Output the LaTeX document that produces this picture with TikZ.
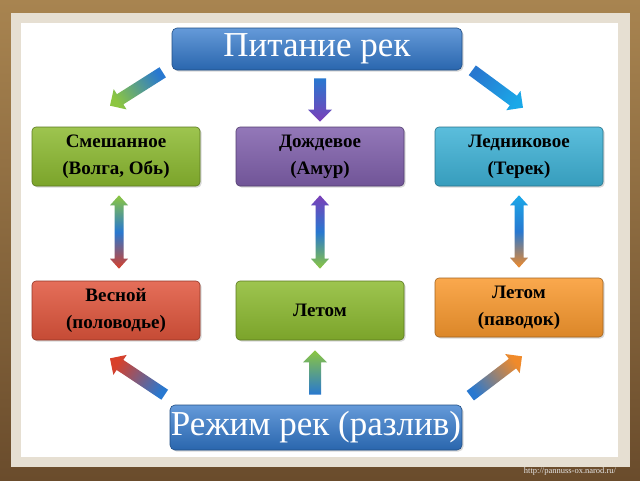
\documentclass[tikz,border=0pt]{standalone}
\usepackage{fontspec}
\setmainfont{Liberation Serif}
\usetikzlibrary{calc,shadows}
\definecolor{bgA}{HTML}{A88450}
\definecolor{bgB}{HTML}{6A4C2C}
\definecolor{frameC}{HTML}{E6DFD2}
\definecolor{hblue}{HTML}{3178CC}
\definecolor{cgreen}{HTML}{8CBA30}
\definecolor{cpurple}{HTML}{8060AC}
\definecolor{ccyan}{HTML}{3EB2D6}
\definecolor{cred}{HTML}{E0553C}
\definecolor{corange}{HTML}{F9992E}
\definecolor{ablue}{HTML}{2878D0}
\definecolor{agreen}{HTML}{8CC640}
\definecolor{apurple}{HTML}{7B3FB8}
\definecolor{acyan}{HTML}{1AA8E8}
\definecolor{ared}{HTML}{D8402A}
\definecolor{aorange}{HTML}{F08A2A}
\newcommand{\blk}[3]{%
  \coordinate (bA) at (#2); \coordinate (bB) at (#3);
  \coordinate (bH) at ($(bB)!12pt!(bA)$);
  \path[#1] ($(bA)!6pt!90:(bB)$) -- ($(bH)!6pt!90:(bB)$) -- ($(bH)!12pt!90:(bB)$) -- (bB)
    -- ($(bH)!12pt!-90:(bB)$) -- ($(bH)!6pt!-90:(bB)$) -- ($(bA)!6pt!-90:(bB)$) -- cycle;}
\newcommand{\dbl}[3]{%
  \coordinate (bA) at (#2); \coordinate (bB) at (#3);
  \coordinate (bH) at ($(bB)!10pt!(bA)$); \coordinate (bG) at ($(bA)!10pt!(bB)$);
  \path[#1] (bA) -- ($(bG)!9pt!-90:(bB)$) -- ($(bG)!4.5pt!-90:(bB)$) -- ($(bH)!4.5pt!-90:(bB)$)
    -- ($(bH)!9pt!-90:(bB)$) -- (bB) -- ($(bH)!9pt!90:(bB)$) -- ($(bH)!4.5pt!90:(bB)$)
    -- ($(bG)!4.5pt!90:(bB)$) -- ($(bG)!9pt!90:(bB)$) -- cycle;}
\tikzset{
  bx/.style={rounded corners=4pt, minimum width=168pt, minimum height=59pt, inner sep=0pt,
    align=center, font=\bfseries\fontsize{19}{27}\selectfont, text=black,
    draw=#1!65!black, line width=0.6pt, top color=#1!85!white, bottom color=#1!88!black,
    drop shadow={opacity=0.3, shadow xshift=1.5pt, shadow yshift=-1.5pt}},
  hd/.style={rounded corners=5pt, inner sep=0pt, font=\fontsize{35}{35}\selectfont,
    text=white, draw=hblue!65!black, line width=0.6pt, top color=hblue!75!white,
    bottom color=hblue!85!black,
    drop shadow={opacity=0.3, shadow xshift=1.5pt, shadow yshift=-1.5pt}},
  url/.style={font=\fontsize{8.5}{8.5}\selectfont, text=white!80!gray}
}
\begin{document}
\begin{tikzpicture}[x=1pt,y=-1pt]
\useasboundingbox (0,0) rectangle (640,480);
\shade[top color=bgA, bottom color=bgB] (0,0) rectangle (640,480);
\fill[frameC] (11,13) rectangle (630,467);
\fill[white] (21,23) rectangle (618,457);
\node[url] (web) at (570,471) {http://pannuss-ox.narod.ru/};
% header and footer
\node[hd, minimum width=290pt, minimum height=42pt] (top) at (317,49) {Питание рек};
\node[hd, minimum width=292pt, minimum height=45pt] (bot) at (316,427.5) {Режим рек (разлив)};
% row 1
\node[bx=cgreen] (mix) at (116,156.5) {Смешанное\\(Волга, Обь)};
\node[bx=cpurple] (rain) at (320,156.5) {Дождевое\\(Амур)};
\node[bx=ccyan] (glac) at (519,156.5) {Ледниковое\\(Терек)};
% row 2
\node[bx=cred] (spring) at (116,310.5) {Весной\\(половодье)};
\node[bx=cgreen] (summer) at (320,310.5) {Летом};
\node[bx=corange] (flood) at (519,307.5) {Летом\\(паводок)};
% top arrows
\blk{top color=ablue, bottom color=agreen, shading angle=-56}{$(top.south west)+(-9,2)$}{$(mix.north)+(-6,-21)$}
\blk{top color=ablue, bottom color=apurple}{$(top.south)+(3,8)$}{$(rain.north)+(0,-5)$}
\blk{top color=ablue, bottom color=acyan, shading angle=53}{$(top.south east)+(10,0)$}{$(glac.north)+(4,-19)$}
% double arrows
\dbl{top color=agreen, bottom color=ared, middle color=ablue}{$(mix.south)+(3,9)$}{$(spring.north)+(3,-12)$}
\dbl{top color=apurple, bottom color=agreen, middle color=ablue}{$(rain.south)+(0,9)$}{$(summer.north)+(0,-12)$}
\dbl{top color=acyan, bottom color=aorange, middle color=ablue}{$(glac.south)+(0,9)$}{$(flood.north)+(0,-10)$}
% bottom arrows
\blk{top color=ared, bottom color=ablue, shading angle=56}{$(bot.north west)+(-5,-10)$}{$(spring.south)+(-6,18)$}
\blk{top color=agreen, bottom color=ablue}{$(bot.north)+(-1,-10)$}{$(summer.south)+(-5,10)$}
\blk{top color=aorange, bottom color=ablue, shading angle=-52}{$(bot.north east)+(8,-9)$}{$(flood.south)+(3,19)$}
\end{tikzpicture}
\end{document}
